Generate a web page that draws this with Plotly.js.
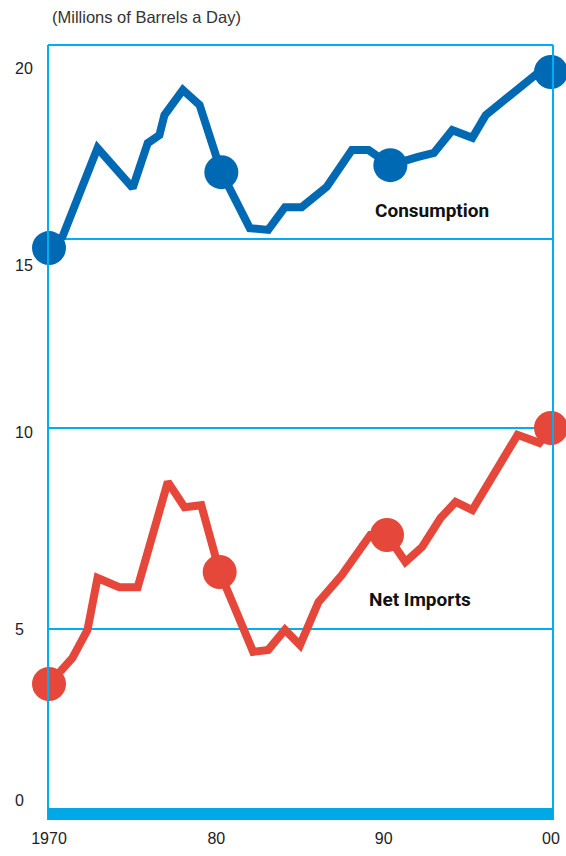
<!DOCTYPE html>
<html>
<head>
<meta charset="utf-8">
<script src="https://cdn.plot.ly/plotly-3.0.1.min.js"></script>
<style>html,body{margin:0;padding:0;background:#fff;}#chart{width:566px;height:856px;}</style>
</head>
<body>
<div id="chart"></div>
<script>
// ---- data ----
const consYears = [1970,1970.8,1972.9,1975,1975.9,1976.6,1976.9,1978,1979,1980.3,1982,1983.1,1984.1,1985.1,1986.6,1988.1,1989.1,1990.4,1992,1993,1994.1,1995.3,1996.1,1997.7,1999.2,2000];
const consumption = [14.74,15.06,17.6,16.46,17.74,17.97,18.54,19.26,18.83,16.91,15.31,15.26,15.91,15.91,16.49,17.54,17.54,17.11,17.34,17.46,18.11,17.89,18.54,19.17,19.74,19.77];
const impYears = [1970,1971.4,1972.3,1972.9,1974.2,1975.3,1977.1,1978.1,1979.1,1980.2,1982.2,1983.1,1984.1,1985,1986.1,1987.5,1989.2,1990.2,1991.3,1992.3,1993.4,1994.3,1995.3,1998,1999.3,2000];
const netImports = [3.63,4.28,4.98,6.27,6.04,6.04,8.66,8.03,8.08,6.42,4.43,4.48,4.98,4.6,5.67,6.34,7.34,7.34,6.67,7.04,7.76,8.16,7.96,9.83,9.63,10.0];
const dotIndex = [0,9,17,25];
const xTickVals = [1970,1980,1990,2000];
const xTickText = ['1970','80','90','00'];
const lowerTicks = [5,10];
const upperTicks = [15,20];
const baseTick = 0;
const lowerGrid = [5,10];
const upperGrid = [15];
const unitsLabel = '(Millions of Barrels a Day)';
const seriesNames = ['Consumption','Net Imports'];

// ---- styles ----
const blue = '#0069B4', red = '#E5473A', frame = '#00AEEF', barColor = '#00A8E6';
const lowerShift = [0,-4];
const upperShift = [-26,-4];

const pick = (arr, idx) => idx.map(i => arr[i]);

const traces = [
  {x: consYears, y: consumption, yaxis: 'y2', mode: 'lines', line: {color: blue, width: 8}, hoverinfo: 'skip'},
  {x: pick(consYears, dotIndex), y: pick(consumption, dotIndex), yaxis: 'y2', mode: 'markers', marker: {color: blue, size: 34}, cliponaxis: false, hoverinfo: 'skip'},
  {x: impYears, y: netImports, mode: 'lines', line: {color: red, width: 8}, hoverinfo: 'skip'},
  {x: pick(impYears, dotIndex), y: pick(netImports, dotIndex), mode: 'markers', marker: {color: red, size: 34}, cliponaxis: false, hoverinfo: 'skip'}
];

const font = "'Liberation Sans', Arial, sans-serif";
const condFont = "Roboto, 'Liberation Sans', sans-serif";
const tickFont = {family: font, size: 16, color: '#222'};

const annotations = [];
lowerTicks.forEach((v, i) => annotations.push({xref: 'paper', x: -0.069, xanchor: 'left', yref: 'y', y: v, yshift: lowerShift[i], text: String(v), showarrow: false, font: tickFont}));
upperTicks.forEach((v, i) => annotations.push({xref: 'paper', x: -0.069, xanchor: 'left', yref: 'y2', y: v, yshift: upperShift[i], text: String(v), showarrow: false, font: tickFont}));
annotations.push({xref: 'paper', x: -0.069, xanchor: 'left', yref: 'paper', y: 0, yanchor: 'middle', yshift: 20, text: String(baseTick), showarrow: false, font: tickFont});
annotations.push({xref: 'paper', yref: 'paper', x: 0.004, y: 1.0, yshift: 28, xanchor: 'left', yanchor: 'middle', text: unitsLabel, showarrow: false, font: {family: font, size: 16.5, color: '#333'}});
annotations.push({xref: 'paper', yref: 'paper', x: 0.76, y: 0.787, xanchor: 'center', yanchor: 'middle', text: '<b>' + seriesNames[0] + '</b>', showarrow: false, font: {family: condFont, size: 19, color: '#111'}});
annotations.push({xref: 'paper', yref: 'paper', x: 0.737, y: 0.284, xanchor: 'center', yanchor: 'middle', text: '<b>' + seriesNames[1] + '</b>', showarrow: false, font: {family: condFont, size: 19, color: '#111'}});

const shapes = [
  {type: 'line', xref: 'paper', yref: 'paper', x0: 0, x1: 0, y0: 0, y1: 1, line: {color: frame, width: 2}},
  {type: 'line', xref: 'paper', yref: 'paper', x0: 0, x1: 1, y0: 1, y1: 1, line: {color: frame, width: 2}},
  {type: 'line', xref: 'paper', yref: 'paper', x0: 1, x1: 1, y0: 0, y1: 1, line: {color: frame, width: 2}},
  {type: 'rect', xref: 'paper', yref: 'paper', x0: 0, x1: 1, y0: 0, y1: 12/775, fillcolor: barColor, line: {width: 0}}
];

const layout = {
  width: 566, height: 856,
  margin: {l: 48, r: 13, t: 45, b: 36},
  paper_bgcolor: '#fff', plot_bgcolor: '#fff',
  showlegend: false,
  xaxis: {range: [1969.94, 2000.12], tickvals: xTickVals, ticktext: xTickText, showgrid: false, zeroline: false, showline: false, ticks: '', ticklabelstandoff: 7, tickfont: tickFont, fixedrange: true},
  yaxis: {range: [0.249, 19.527], tickvals: lowerGrid, showticklabels: false, showgrid: true, gridcolor: frame, gridwidth: 2, zeroline: false, showline: false, ticks: '', fixedrange: true},
  yaxis2: {range: [-1.6, 20.543], overlaying: 'y', tickvals: upperGrid, showticklabels: false, showgrid: true, gridcolor: frame, gridwidth: 2, zeroline: false, showline: false, ticks: '', fixedrange: true},
  annotations: annotations,
  shapes: shapes
};

Plotly.newPlot('chart', traces, layout, {displayModeBar: false, staticPlot: true});
</script>
</body>
</html>
